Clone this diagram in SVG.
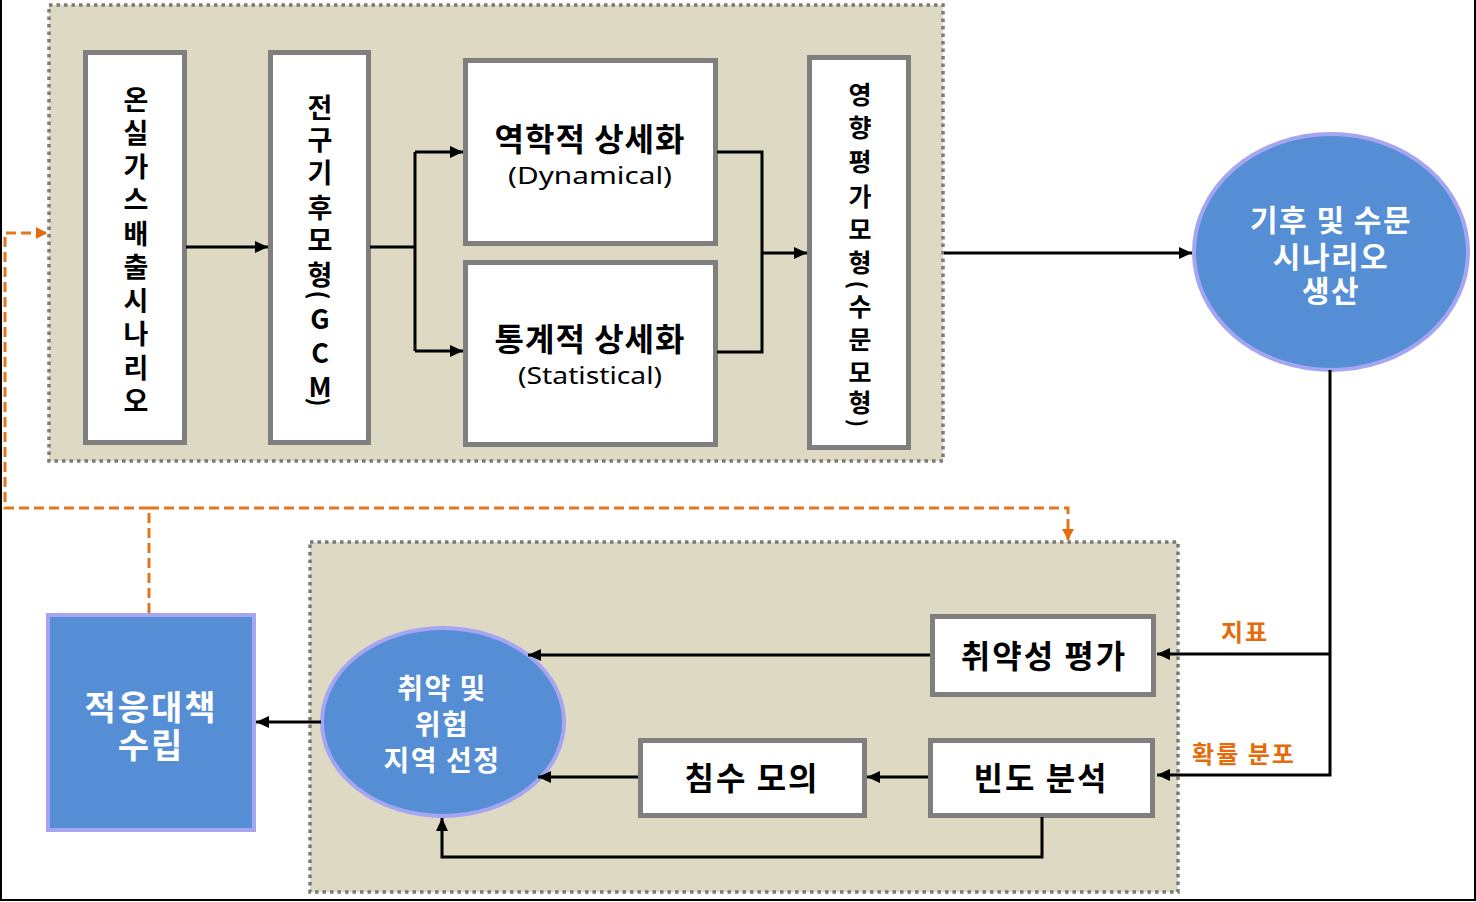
<svg xmlns="http://www.w3.org/2000/svg" width="1476" height="902" viewBox="0 0 1476 902">
<defs>
<style>
.cont{fill:#DDD9C3;stroke:#7A7A7A;stroke-width:3.5;stroke-dasharray:3.5 4}
.box{fill:#FFFFFF;stroke:#7F7F7F;stroke-width:5}
.blue{fill:#558ED5;stroke:#A5A5F2;stroke-width:4}
.k{font-family:"Noto Sans CJK KR","Noto Sans",sans-serif;font-weight:bold;fill:#000;text-anchor:middle}
.kw{font-family:"Noto Sans CJK KR","Noto Sans",sans-serif;font-weight:bold;fill:#FFFFFF;text-anchor:middle}
.lat{font-family:"Noto Sans","Liberation Sans",sans-serif;fill:#000;text-anchor:middle}
.v{font-family:"Noto Sans CJK KR","Noto Sans",sans-serif;font-weight:bold;fill:#000;text-anchor:middle}
.ln{fill:none;stroke:#000;stroke-width:3}
.or{fill:none;stroke:#E0761E;stroke-width:3;stroke-dasharray:10 5}
.ot{font-family:"Noto Sans CJK KR","Noto Sans",sans-serif;font-weight:bold;fill:#E46C0A;text-anchor:middle}
</style>
<marker id="ah" markerUnits="userSpaceOnUse" markerWidth="14" markerHeight="12" refX="13" refY="6" orient="auto">
<path d="M0,0 L13,6 L0,12 z" fill="#000"/>
</marker>
<marker id="oh" markerUnits="userSpaceOnUse" markerWidth="12" markerHeight="12" refX="11" refY="6" orient="auto">
<path d="M0,0 L11,6 L0,12 z" fill="#E46C0A"/>
</marker>
</defs>
<rect x="0" y="0" width="1476" height="902" fill="#FFFFFF"/>
<g id="frame" stroke="#000" stroke-width="2" fill="none">
<path d="M1,0 V900 H1475 V0"/>
</g>

<g id="top-container"><rect class="cont" x="49" y="5" width="894" height="456"/></g>
<g id="bottom-container"><rect class="cont" x="310" y="542" width="868" height="350"/></g>

<g id="ghg">
<rect class="box" x="85.5" y="52.5" width="99" height="390"/>
<text class="v" font-size="27">
<tspan x="136" y="110">온</tspan><tspan x="136" y="143">실</tspan><tspan x="136" y="177">가</tspan><tspan x="136" y="210">스</tspan><tspan x="136" y="244">배</tspan><tspan x="136" y="277">출</tspan><tspan x="136" y="311">시</tspan><tspan x="136" y="344">나</tspan><tspan x="136" y="378">리</tspan><tspan x="136" y="411">오</tspan>
</text>
</g>

<g id="gcm">
<rect class="box" x="270.5" y="52.5" width="98" height="390"/>
<text class="v" font-size="27">
<tspan x="320" y="118">전</tspan><tspan x="320" y="150">구</tspan><tspan x="320" y="183">기</tspan><tspan x="320" y="218">후</tspan><tspan x="320" y="250">모</tspan><tspan x="320" y="285">형</tspan><tspan x="320" y="329">G</tspan><tspan x="320" y="363">C</tspan><tspan x="320" y="397">M</tspan>
</text>
<text class="v" font-size="24" transform="translate(320,295) rotate(90)" dominant-baseline="central">(</text>
<text class="v" font-size="24" transform="translate(320,402) rotate(90)" dominant-baseline="central">)</text>
</g>

<g id="dynamical">
<rect class="box" x="465.5" y="60.5" width="250" height="183"/>
<text class="k" font-size="32" x="590" y="151" letter-spacing="1">역학적 상세화</text>
<text class="lat" font-size="24" x="590" y="184" textLength="164" lengthAdjust="spacingAndGlyphs">(Dynamical)</text>
</g>

<g id="statistical">
<rect class="box" x="465.5" y="262.5" width="250" height="182"/>
<text class="k" font-size="32" x="590" y="351" letter-spacing="1">통계적 상세화</text>
<text class="lat" font-size="24" x="590" y="384" textLength="144" lengthAdjust="spacingAndGlyphs">(Statistical)</text>
</g>

<g id="impact">
<rect class="box" x="809.5" y="57.5" width="99" height="390"/>
<text class="v" font-size="25">
<tspan x="860" y="104">영</tspan><tspan x="860" y="137">향</tspan><tspan x="860" y="171">평</tspan><tspan x="860" y="206">가</tspan><tspan x="860" y="239">모</tspan><tspan x="860" y="272">형</tspan><tspan x="860" y="316">수</tspan><tspan x="860" y="349">문</tspan><tspan x="860" y="382">모</tspan><tspan x="860" y="412">형</tspan>
</text>
<text class="v" font-size="22" transform="translate(860,285) rotate(90)" dominant-baseline="central">(</text>
<text class="v" font-size="22" transform="translate(860,423) rotate(90)" dominant-baseline="central">)</text>
</g>

<g id="scenario">
<ellipse class="blue" cx="1331" cy="252" rx="137" ry="118"/>
<text class="kw" font-size="30" letter-spacing="1.5"><tspan x="1331" y="231">기후 및 수문</tspan><tspan x="1331" y="268">시나리오</tspan><tspan x="1331" y="302">생산</tspan></text>
</g>

<g id="vulnerability">
<rect class="box" x="932.5" y="616.5" width="221" height="78"/>
<text class="k" font-size="32" x="1044" y="668" letter-spacing="2">취약성 평가</text>
</g>

<g id="frequency">
<rect class="box" x="930.5" y="740.5" width="222" height="75"/>
<text class="k" font-size="32" x="1041" y="790" letter-spacing="2">빈도 분석</text>
</g>

<g id="inundation">
<rect class="box" x="640.5" y="740.5" width="224" height="75"/>
<text class="k" font-size="32" x="752" y="790" letter-spacing="2">침수 모의</text>
</g>

<g id="risk-area">
<ellipse class="blue" cx="443" cy="722" rx="121" ry="94"/>
<text class="kw" font-size="28" letter-spacing="1.5"><tspan x="442" y="699">취약 및</tspan><tspan x="442" y="735">위험</tspan><tspan x="442" y="771">지역 선정</tspan></text>
</g>

<g id="adaptation">
<rect class="blue" x="48" y="615" width="206" height="215"/>
<text class="kw" font-size="34" letter-spacing="2"><tspan x="151" y="720">적응대책</tspan><tspan x="151" y="758">수립</tspan></text>
</g>

<g id="labels">
<text class="ot" font-size="24" x="1245" y="641" letter-spacing="2">지표</text>
<text class="ot" font-size="24" x="1244" y="763" letter-spacing="2">확률 분포</text>
</g>

<g id="connectors">
<path class="ln" d="M186,247 H268" marker-end="url(#ah)"/>
<path class="ln" d="M370,247 H415"/>
<path class="ln" d="M415,152 V351"/>
<path class="ln" d="M415,152 H463" marker-end="url(#ah)"/>
<path class="ln" d="M415,351 H463" marker-end="url(#ah)"/>
<path class="ln" d="M717,152 H762 V352 H717"/>
<path class="ln" d="M762,253 H807" marker-end="url(#ah)"/>
<path class="ln" d="M944,253 H1192" marker-end="url(#ah)"/>
<path class="ln" d="M1330,370 V775 H1157" marker-end="url(#ah)"/>
<path class="ln" d="M1330,654 H1157" marker-end="url(#ah)"/>
<path class="ln" d="M930,655 H528" marker-end="url(#ah)"/>
<path class="ln" d="M928,777 H867" marker-end="url(#ah)"/>
<path class="ln" d="M638,777 H538" marker-end="url(#ah)"/>
<path class="ln" d="M1042,817 V857 H442 V818" marker-end="url(#ah)"/>
<path class="ln" d="M321,722 H256" marker-end="url(#ah)"/>
<path class="or" d="M149,613 V508"/>
<path class="or" d="M149,508 H5 V233 H47" marker-end="url(#oh)"/>
<path class="or" d="M149,508 H1068 V540" marker-end="url(#oh)"/>
</g>
</svg>
